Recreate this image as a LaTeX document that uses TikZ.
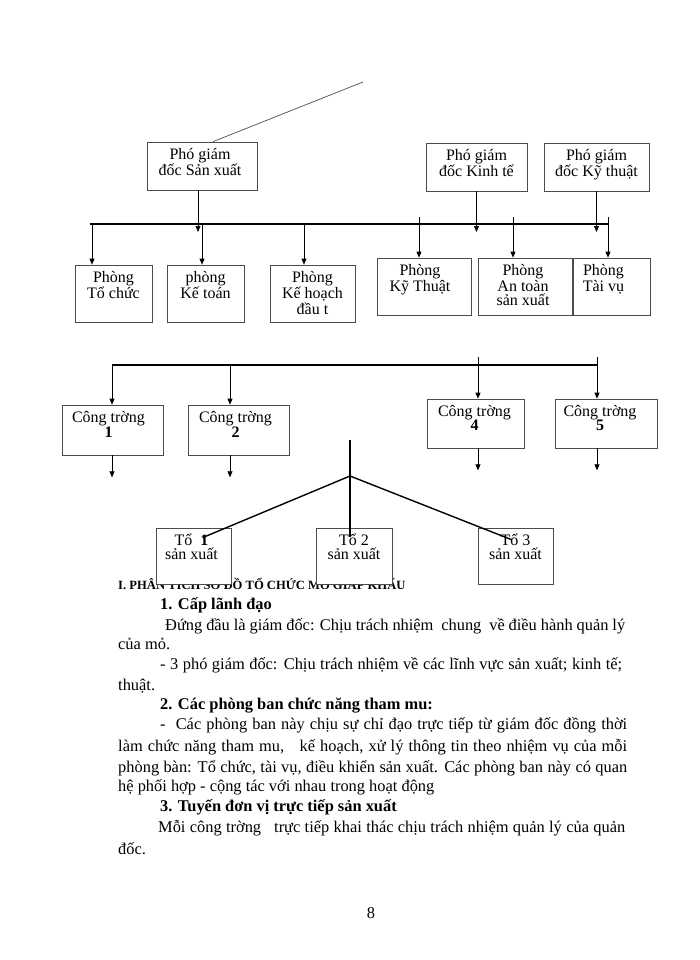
\documentclass[tikz,border=0pt]{standalone}
\usepackage{fontspec}
\setmainfont{Liberation Serif}
\usetikzlibrary{arrows.meta}
\newcommand{\orgBoxFont}{\fontsize{16}{14}\selectfont}
\newcommand{\orgBodyFont}{\fontsize{16.4}{20}\selectfont}
\newcommand{\orgStrut}{\rule{0pt}{15pt}}
\newcommand{\orgJust}[2]{\makebox[#1pt][s]{#2}}

\begin{document}
\begin{tikzpicture}[
    x=1pt, y=-1pt,
    orgBoxStyle/.style={draw=black!70, line width=0.7pt, fill=white, inner sep=0pt},
    orgLabelStyle/.style={font=\orgBoxFont, align=center, inner sep=0pt, anchor=north},
    orgBusStyle/.style={line width=1.6pt},
    orgArrowStyle/.style={line width=0.7pt, -{Triangle[length=6pt,width=5pt]}},
    orgBranchStyle/.style={line width=1.4pt},
    orgTextStyle/.style={font=\orgBodyFont, anchor=base west, inner sep=0pt}
]
    \useasboundingbox (0,0) rectangle (700,960);

    % tiêu đề mục (bị các ô Tổ che một phần)
    \node[orgTextStyle, font=\fontsize{12.6}{15}\selectfont\bfseries] (heading) at (118,589)
        {I. PHÂN TÍCH SƠ ĐỒ TỔ CHỨC MỎ GIÁP KHẨU};

    % các ô: tên/x/y/rộng/cao/lệch chữ/nội dung
    \foreach \n/\cx/\cy/\w/\h/\dx/\t in {
        pgdSX/202/166/110/48/-2/{Phó giám\\đốc Sản xuất},
        pgdKT/476.5/167/101/48/0/{Phó giám\\đốc Kinh tế},
        pgdKyT/596.5/167/105/48/0/{Phó giám\\đốc Kỹ thuật},
        phToChuc/113.5/293.5/77/57/0/{Phòng\\Tổ chức},
        phKeToan/205.5/293.5/77/57/0/{phòng\\Kế toán},
        phKeHoach/312.5/293.5/85/57/0/{Phòng\\Kế hoạch\\đầu t},
        phKyThuat/424/286.5/94/57/-4/{Phòng\\Kỹ Thuật},
        phAnToan/525/286.5/94/57/-2/{Phòng\\An toàn\\sản xuất},
        phTaiVu/611.5/286.5/77/57/-8/{Phòng\\Tài vụ},
        ct1/112.5/430/101/50/-4/{Công trờng\\\textbf{1}},
        ct2/238.5/430/101/50/-3/{Công trờng\\\textbf{2}},
        ct4/475.5/423.5/97/49/-1/{Công trờng\\\textbf{4}},
        ct5/606/423.5/102/49/-6/{Công trờng\\\textbf{5}},
        to1/193.5/556/75/56/-2/{Tổ~ \textbf{1}\\sản xuất},
        to2/354/556/76/56/0/{Tổ 2\\sản xuất},
        to3/515.5/556/75/56/0/{Tổ 3\\sản xuất}} {
        \node[orgBoxStyle, minimum width=\w pt, minimum height=\h pt] (\n) at (\cx,\cy) {};
        \node[orgLabelStyle] (\n Text) at ([xshift=\dx pt, yshift=-3pt]\n.north) {\orgStrut\t};
    }

    % đường từ giám đốc
    \coordinate (gdTop) at (363,82);
    \draw[black!70, line width=0.7pt] ([xshift=11pt]pgdSX.north) -- (gdTop);

    % thanh ngang các phòng
    \coordinate (busL) at (90,224);
    \coordinate (busR) at (608,224);
    \draw[orgBusStyle] (busL) -- (busR);
    \coordinate (pgdEnd) at (0,232);
    \draw[orgArrowStyle] ([xshift=-4pt]pgdSX.south) -- ([xshift=-4pt]pgdSX.south |- pgdEnd);
    \draw[orgArrowStyle] (pgdKT.south) -- (pgdKT.south |- pgdEnd);
    \draw[orgArrowStyle] (pgdKyT.south) -- (pgdKyT.south |- pgdEnd);
    \coordinate (b1) at (92,224);
    \coordinate (b2) at (202,224);
    \coordinate (b3) at (304,224);
    \coordinate (b4) at (419,217);
    \coordinate (b5) at (513,217);
    \coordinate (b6) at (608,217);
    \foreach \c/\t in {b1/phToChuc, b2/phKeToan, b3/phKeHoach, b4/phKyThuat, b5/phAnToan, b6/phTaiVu}
        \draw[orgArrowStyle] (\c) -- (\c |- \t.north);

    % thanh ngang công trờng
    \coordinate (ctL) at (112,365);
    \coordinate (ctR) at (597,365);
    \draw[orgBusStyle] (ctL) -- (ctR);
    \coordinate (d1) at (112,365);
    \coordinate (d2) at (230,365);
    \coordinate (d4) at (478,357);
    \coordinate (d5) at (597,357);
    \foreach \c/\t in {d1/ct1, d2/ct2, d4/ct4, d5/ct5} {
        \draw[orgArrowStyle] (\c) -- (\c |- \t.north);
        \draw[orgArrowStyle] (\c |- \t.south) -- ++(0,22);
    }

    % nhánh xuống các tổ
    \coordinate (toTop) at (350,440);
    \coordinate (toHub) at (350,476);
    \draw[orgBranchStyle] (toTop) -- (350,537);
    \draw[orgBranchStyle] ([xshift=9pt, yshift=-10pt]to1.north) -- (toHub) -- ([xshift=-4pt, yshift=-12pt]to3.north);

    % phần chữ
    \node[orgTextStyle, font=\orgBodyFont\bfseries] (sec1) at (160,609) {1. Cấp lãnh đạo};
    \node[orgTextStyle] (l1) at (165,630) {\orgJust{460}{Đứng đầu là giám đốc: Chịu trách nhiệm \ chung \ về điều hành quản lý}};
    \node[orgTextStyle] (l2) at (118,649) {của mỏ.};
    \node[orgTextStyle] (l3) at (160,669) {\orgJust{462}{- 3 phó giám đốc: Chịu trách nhiệm về các lĩnh vực sản xuất; kinh tế;}};
    \node[orgTextStyle] (l4) at (118,690) {thuật.};
    \node[orgTextStyle, font=\orgBodyFont\bfseries] (sec2) at (160,709) {2. Các phòng ban chức năng tham mu:};
    \node[orgTextStyle] (l5) at (160,729) {\orgJust{467}{- \ Các phòng ban này chịu sự chỉ đạo trực tiếp từ giám đốc đồng thời}};
    \node[orgTextStyle] (l6) at (118,751) {\orgJust{509}{làm chức năng tham mu, \ \ kế hoạch, xử lý thông tin theo nhiệm vụ của mỗi}};
    \node[orgTextStyle] (l7) at (118,772) {\orgJust{509}{phòng bàn: Tổ chức, tài vụ, điều khiển sản xuất. Các phòng ban này có quan}};
    \node[orgTextStyle] (l8) at (118,791) {hệ phối hợp - cộng tác với nhau trong hoạt động};
    \node[orgTextStyle, font=\orgBodyFont\bfseries] (sec3) at (160,811) {3. Tuyến đơn vị trực tiếp sản xuất};
    \node[orgTextStyle] (l9) at (158,832) {\orgJust{467}{Mỗi công trờng \ \ trực tiếp khai thác chịu trách nhiệm quản lý của quản}};
    \node[orgTextStyle] (l10) at (118,854) {đốc.};
    \node[font=\orgBodyFont, anchor=base] (pageNo) at (371,918) {8};
\end{tikzpicture}
\end{document}
